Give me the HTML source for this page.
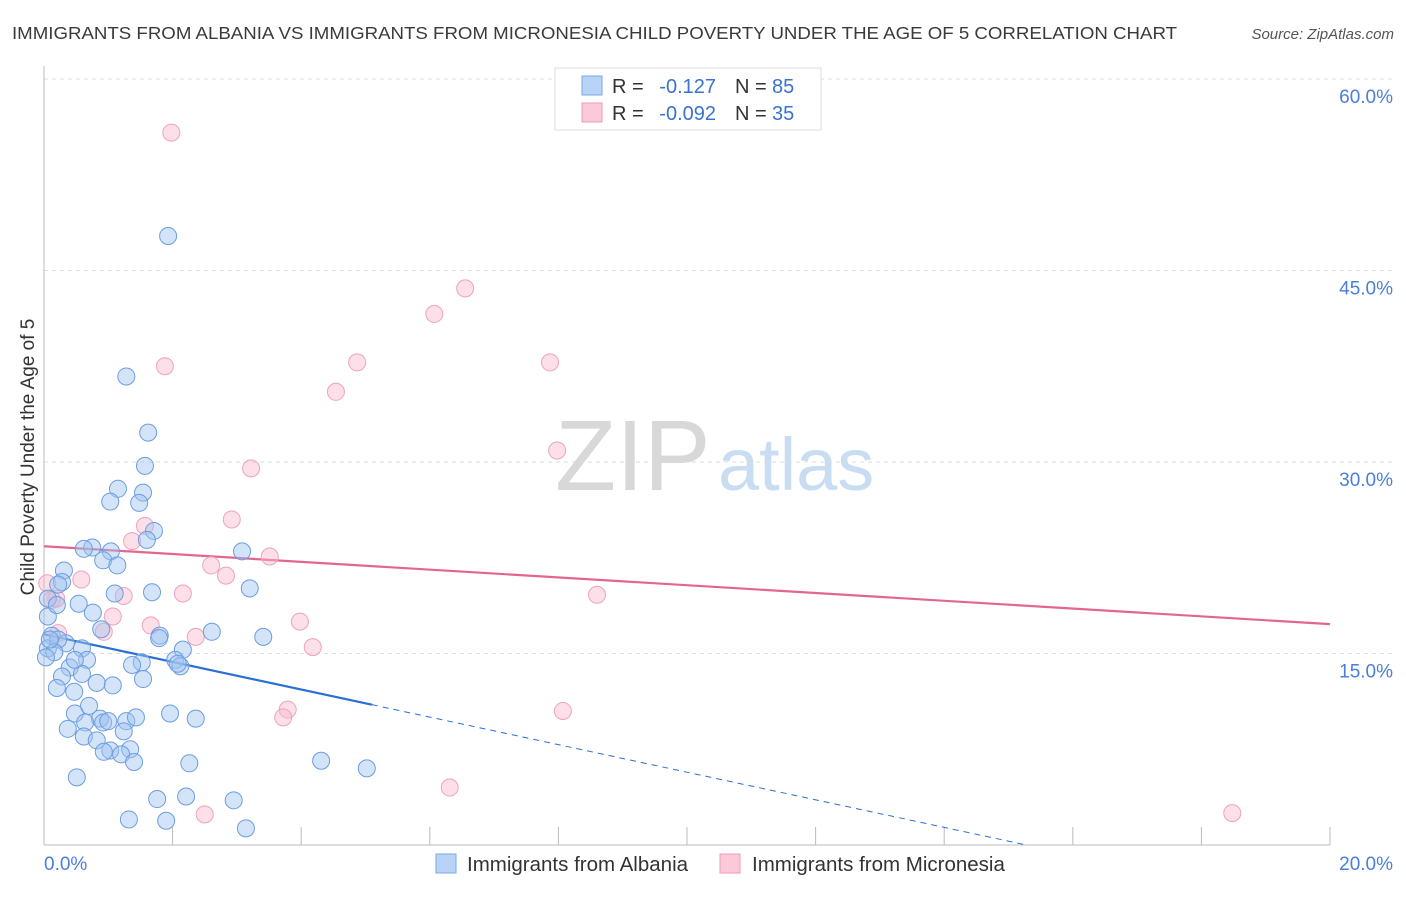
<!DOCTYPE html>
<html><head><meta charset="utf-8"><style>
body{margin:0;background:#fff;font-family:"Liberation Sans",sans-serif}
svg text{font-family:"Liberation Sans",sans-serif}
</style></head><body>
<svg id="chart" width="1406" height="892" xmlns="http://www.w3.org/2000/svg">
<text x="12" y="39" font-size="17.5" fill="#3a3a3a" textLength="1165" lengthAdjust="spacingAndGlyphs">IMMIGRANTS FROM ALBANIA VS IMMIGRANTS FROM MICRONESIA CHILD POVERTY UNDER THE AGE OF 5 CORRELATION CHART</text>
<text x="1394" y="39" font-size="15" fill="#555" font-style="italic" text-anchor="end">Source: ZipAtlas.com</text>
<text transform="translate(34,457) rotate(-90)" font-size="19" fill="#333" text-anchor="middle">Child Poverty Under the Age of 5</text>
<g>
<text x="555" y="490" font-size="100" fill="#d8d8d8" font-family="Liberation Serif,serif">ZIP</text>
<text x="718" y="490" font-size="74" fill="#c8dcf2">atlas</text>
</g>
<g id="grid"></g><g id="axes"></g><g id="trend"></g><g id="pts"></g>
<g>
<rect x="555" y="68" width="266" height="62" fill="#fff" stroke="#ddd"/>
<rect x="582" y="76" width="20" height="19" fill="#b8d3f5" stroke="#7aa7e4"/>
<rect x="582" y="103" width="20" height="19" fill="#fbc9d8" stroke="#f09ab5"/>
<g font-size="20">
<text x="612" y="93" fill="#333">R =</text>
<text x="716" y="93" fill="#3a72d0" text-anchor="end">-0.127</text>
<text x="735" y="93" fill="#333">N =</text>
<text x="772" y="93" fill="#3a72d0">85</text>
<text x="612" y="120" fill="#333">R =</text>
<text x="716" y="120" fill="#3a72d0" text-anchor="end">-0.092</text>
<text x="735" y="120" fill="#333">N =</text>
<text x="772" y="120" fill="#3a72d0">35</text>
</g>
</g>
<g>
<rect x="436" y="854" width="20" height="19" fill="#b8d3f5" stroke="#7aa7e4"/>
<text x="467" y="871" font-size="20.5" fill="#333">Immigrants from Albania</text>
<rect x="720" y="854" width="20" height="19" fill="#fbc9d8" stroke="#f09ab5"/>
<text x="752" y="871" font-size="20.5" fill="#333">Immigrants from Micronesia</text>
</g>
</svg>
<script>
const yTicks=[15,30,45,60];
const yTickLabels=["15.0%","30.0%","45.0%","60.0%"];
const xTickLabels=["0.0%","20.0%"];
const albaniaX=[1.93,1.28,1.62,1.57,1.15,1.03,1.54,1.48,1.71,1.60,3.08,0.75,0.62,1.04,0.92,1.14,0.31,0.28,0.22,3.20,1.68,1.10,0.76,0.54,0.06,3.41,2.61,1.80,1.79,0.89,0.12,0.06,0.34,0.22,0.59,0.67,0.16,0.03,2.16,2.04,2.12,2.08,1.52,1.37,1.54,0.40,0.59,0.28,0.82,1.07,0.20,0.47,0.70,0.48,0.87,0.64,0.92,1.00,1.28,1.24,0.37,0.62,0.82,1.03,1.34,1.20,1.96,2.36,1.40,2.26,4.31,5.02,0.51,1.76,2.21,2.95,1.32,1.90,3.14,0.06,0.20,0.09,0.48,1.43,0.93];
const albaniaY=[47.7,36.7,32.3,29.7,27.9,26.9,27.6,26.8,24.6,23.9,23.0,23.3,23.2,23.0,22.3,21.9,21.5,20.6,20.4,20.1,19.8,19.7,18.2,18.9,17.9,16.3,16.7,16.4,16.2,16.9,16.4,15.4,15.8,16.1,15.4,14.5,15.1,14.7,15.3,14.5,14.0,14.2,14.3,14.1,13.0,13.9,13.4,13.2,12.7,12.5,12.3,12.0,10.9,10.3,9.9,9.6,9.6,9.7,9.7,8.9,9.1,8.5,8.2,7.4,7.5,7.1,10.3,9.9,6.5,6.4,6.6,6.0,5.3,3.6,3.8,3.5,2.0,1.9,1.3,19.3,18.8,16.1,14.5,10.0,7.3];
const microX=[1.98,6.55,6.07,4.87,7.87,1.88,4.54,7.98,3.22,2.92,1.57,1.37,3.51,2.60,2.83,0.58,0.19,2.16,1.24,8.60,1.07,0.22,1.66,0.93,3.98,2.36,4.18,3.79,3.72,8.07,6.31,2.50,18.48,0.05,0.12];
const microY=[55.8,43.6,41.6,37.8,37.8,37.5,35.5,30.9,29.5,25.5,25.0,23.8,22.6,21.9,21.1,20.8,19.3,19.7,19.5,19.6,17.9,16.6,17.2,16.7,17.5,16.3,15.5,10.6,10.0,10.5,4.5,2.4,2.5,20.5,19.2];
const albaniaTrend=[16.5,-1.08];
const microTrend=[23.4,-0.305];
const NS="http://www.w3.org/2000/svg";
const X=v=>44+v/20*1286, Y=v=>845-v/60*766;
function mk(t,a,p){const e=document.createElementNS(NS,t);for(const k in a)e.setAttribute(k,a[k]);p.appendChild(e);return e;}
const grid=document.getElementById('grid'),axes=document.getElementById('axes');
yTicks.forEach((t,i)=>{
 const l=mk('line',{x1:44,x2:1394,y1:Y(t),y2:Y(t),stroke:'#ddd','stroke-dasharray':'4,4'},grid);
 
 
 const tx=mk('text',{x:1393,y:Y(t)+24,'font-size':19,fill:'#4a7fd8','text-anchor':'end'},axes);
 tx.textContent=yTickLabels[i];
 
 
});
mk('line',{x1:44,x2:44,y1:66,y2:845,stroke:'#bbb'},axes);
mk('line',{x1:44,x2:1330,y1:845,y2:845,stroke:'#bbb'},axes);
for(let i=1;i<=10;i++){const t=mk('line',{x1:X(i*2),x2:X(i*2),y1:827,y2:845,stroke:'#bbb'},axes);
 
 }
[0,20].forEach((v,i)=>{const tx=mk('text',{x:i?1393:44,y:870,'font-size':19,fill:'#4a7fd8','text-anchor':i?'end':'start'},axes);
 tx.textContent=xTickLabels[i];
 
 });
const pts=document.getElementById('pts');
microX.forEach((x,i)=>{const c=mk('circle',{cx:X(x),cy:Y(microY[i]),r:8.5,fill:'rgba(248,185,205,0.45)',stroke:'#eea3bd','stroke-width':1},pts);
 
 });
albaniaX.forEach((x,i)=>{const c=mk('circle',{cx:X(x),cy:Y(albaniaY[i]),r:8.5,fill:'rgba(160,195,240,0.45)',stroke:'#6b9de2','stroke-width':1},pts);
 
 });
const tr=document.getElementById('trend');
const f=(p,x)=>p[0]+p[1]*x;
let l1=mk('line',{x1:X(0),y1:Y(f(microTrend,0)),x2:X(20),y2:Y(f(microTrend,20)),stroke:'#e2668f','stroke-width':2.2},tr);


const solidEnd=5.1, zeroX=-albaniaTrend[0]/albaniaTrend[1];
let l2=mk('line',{x1:X(0),y1:Y(f(albaniaTrend,0)),x2:X(solidEnd),y2:Y(f(albaniaTrend,solidEnd)),stroke:'#2a6fd6','stroke-width':2.2},tr);


let l3=mk('line',{x1:X(solidEnd),y1:Y(f(albaniaTrend,solidEnd)),x2:X(zeroX),y2:Y(0),stroke:'#2a6fd6','stroke-width':1,'stroke-dasharray':'6,5'},tr);


</script>
</body></html>
